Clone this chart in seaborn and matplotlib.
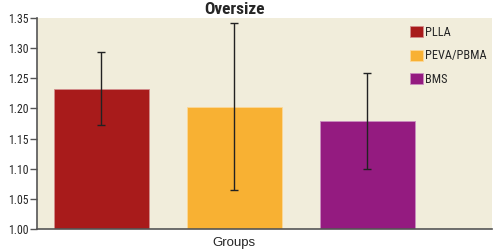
import matplotlib
matplotlib.use("Agg")
import matplotlib.pyplot as plt
import seaborn as sns
import pandas as pd
from matplotlib import font_manager as fm

groups = ["PLLA", "PEVA/PBMA", "BMS"]
means = [1.233, 1.203, 1.179]
errors = [0.060, 0.139, 0.079]
colors = ["#A81B1B", "#F8B133", "#941B80"]
category = "Groups"
title = "Oversize"
yticks = [1.00, 1.05, 1.10, 1.15, 1.20, 1.25, 1.30, 1.35]

df = pd.DataFrame({"cat": [category] * len(groups), "group": groups, "value": means})

sns.set_style("ticks")

COND = ["Roboto Condensed", "DejaVu Sans"]

def nprop(size, weight="normal"):
    return fm.FontProperties(family=COND, size=size, weight=weight)

fig = plt.figure(figsize=(5.02, 2.5), dpi=100)
ax = fig.add_axes([37 / 502, 1 - 229 / 250, 455 / 502, 211 / 250])
ax.set_facecolor("#F1EDDB")

sns.barplot(data=df, x="cat", y="value", hue="group", hue_order=groups,
            palette=colors, saturation=1, gap=0.286, width=0.8,
            errorbar=None, ax=ax, linewidth=0.8, legend=True)

for p in ax.patches:
    fc = p.get_facecolor()
    p.set_edgecolor(tuple(min(1, c * 0.5 + 0.5) if i < 3 else 1 for i, c in enumerate(fc)))
    p.set_linewidth(0.6)

bars = [p for p in ax.patches if p.get_height() > 0][:len(groups)]
bars = sorted(bars, key=lambda b: b.get_x())
xs = [b.get_x() + b.get_width() / 2 for b in bars]
ax.errorbar(xs, means, yerr=errors, fmt="none", ecolor="#222222",
            elinewidth=1.0, capsize=3, capthick=1.0, zorder=5)

ax.set_ylim(1.0, 1.35)
ax.set_yticks(yticks)
ax.set_yticklabels([f"{t:.2f}" for t in yticks], fontproperties=nprop(8.5))
ax.set_xlim(-0.395, 0.517)
ax.set_xlabel("")
ax.set_ylabel("")
ax.tick_params(axis="y", left=True, length=5, width=1, color="#555555", pad=1)
ax.tick_params(axis="x", bottom=False, labelsize=9.5, pad=2)
for lab in ax.get_xticklabels():
    lab.set_family(["Liberation Sans", "DejaVu Sans"])

for s in ["top", "right"]:
    ax.spines[s].set_visible(False)
for s in ["left", "bottom"]:
    ax.spines[s].set_color("#555555")
    ax.spines[s].set_linewidth(1.2)

leg = ax.legend(loc="upper right", frameon=False, handlelength=1.05, handleheight=1.0,
                handletextpad=0.2, labelspacing=0.85, borderaxespad=0.0,
                prop=nprop(8.8), bbox_to_anchor=(1.0, 0.985))

fig.text(235 / 502, 1 - 10 / 250, title, ha="center", va="center",
         fontproperties=nprop(12.5, "bold"))

fig.savefig("out.png", dpi=100)
